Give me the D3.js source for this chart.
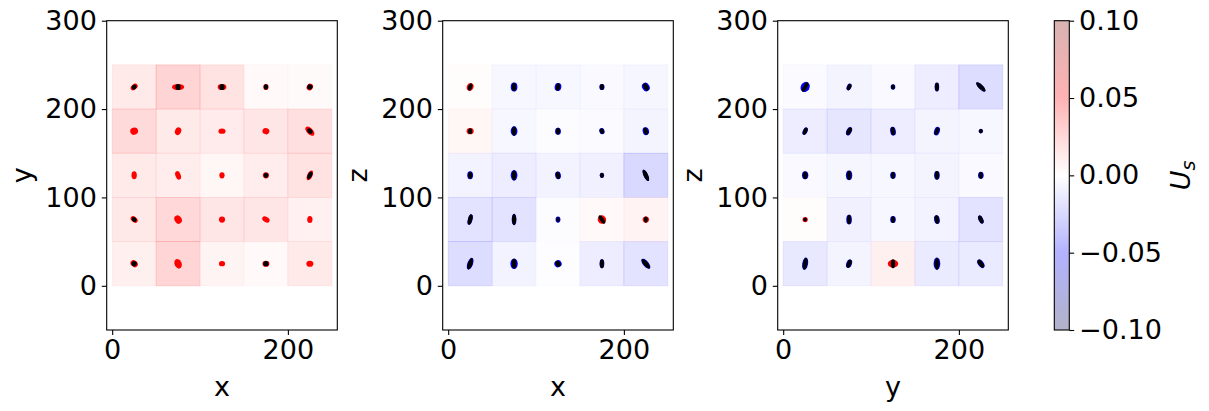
<!DOCTYPE html>
<html>
<head>
<meta charset="utf-8">
<script src="https://cdn.jsdelivr.net/npm/d3@7"></script>
<style>
  body { margin: 0; background: #fff; }
  svg text { font-family: "DejaVu Sans", sans-serif; }
</style>
</head>
<body>
<div id="container"></div>
<script>
/* DATA */
// cell centres along each axis (0-250 grid, 50 wide)
const centers = [25, 75, 125, 175, 225];
const cellSize = 50;
const panelLabels = [["x", "y"], ["x", "z"], ["y", "z"]];
const xTicks = [0, 200];
const yTicks = [0, 100, 200, 300];
const cbTicks = [-0.10, -0.05, 0, 0.05, 0.10];

// U_s per cell, rows listed top (225) to bottom (25)
const usXY = [
  [0.014, 0.028, 0.018, 0.004, 0.003],
  [0.024, 0.014, 0.013, 0.016, 0.020],
  [0.014, 0.012, 0.006, 0.012, 0.018],
  [0.015, 0.025, 0.016, 0.016, 0.009],
  [0.010, 0.027, 0.007, 0.004, 0.014]
];
const usXZ = [
  [0.002, -0.005, -0.005, -0.004, -0.006],
  [0.006, -0.005, -0.002, -0.003, -0.007],
  [-0.008, -0.012, -0.008, -0.010, -0.025],
  [-0.018, -0.018, -0.002, 0.004, 0.008],
  [-0.022, -0.008, -0.001, -0.012, -0.018]
];
const usYZ = [
  [-0.003, -0.007, -0.004, -0.012, -0.022],
  [-0.012, -0.016, -0.012, -0.007, -0.005],
  [-0.004, -0.006, -0.005, -0.007, -0.004],
  [0.002, -0.010, -0.005, -0.008, -0.018],
  [-0.015, -0.007, 0.010, -0.013, -0.013]
];

// spread of the tracked points per cell (data units):
// [semi-x, semi-y, tilt deg, black semi-x, black semi-y]
const spreadXY = [
  [[4.5,3,-40,3,2.5],[7,3.5,0,3,3.5],[5,3.5,0,3,3.5],[3,3.5,0,2.5,3],[3.5,4,30,3,3]],
  [[4.5,4,-20,0,0],[3.5,4.5,20,0,0],[4,3,0,0,0],[4,3.5,20,0,0],[6.5,3.5,45,3.5,2.5]],
  [[3,4.5,0,0,0],[3,5,-20,0,0],[3,3.5,0,0,0],[3.5,3.5,0,2.5,3],[3,6,25,2.5,4.5]],
  [[4.5,3,40,3,2.5],[4,5,-30,0,0],[3.5,3.5,0,0,0],[4.5,3,30,0,0],[3,4,0,0,0]],
  [[4.5,3.5,40,3,3],[4,5.5,-25,0,0],[3.5,3,0,0,0],[4,3.5,0,3,3],[4,3.5,0,0,0]]
];
const spreadXZ = [
  [[3.8,4.5,20,2.3,4.2],[3.8,5,0,2.3,4.8],[3.8,4.5,10,2.3,4.2],[3,3.5,0,2.3,3.3],[4.2,5,-30,2.6,4.5]],
  [[4,3.5,0,2.3,3.3],[3.8,5.5,0,2.3,5.2],[3.3,4,0,2.2,3.8],[3,3.5,-20,2.3,3.3],[3.6,4.5,-15,2.3,4.2]],
  [[3.3,4.5,0,2.3,4.2],[3.8,6,0,2.4,5.6],[3.3,4.5,-10,2.3,4.2],[2.5,3,0,2.2,3],[2.5,7,-25,2.5,7]],
  [[2.6,6,15,2.4,6],[2.7,6.5,0,2.4,6.5],[2.8,3.5,0,1.8,3],[4.7,5,-35,2.3,5.5],[3.6,3.5,0,2.1,3.5]],
  [[3.2,7,20,2.6,6.8],[4.2,6,0,2.5,5.5],[4.2,4,-30,2.7,3.6],[2.7,5,0,2.4,5],[3.2,7,-40,2.6,6.8]]
];
const spreadYZ = [
  [[5,6,30,2.3,6],[2.6,4,25,2.2,3.8],[2.6,3,0,2.2,2.8],[2.6,5,0,2.3,4.8],[2.6,7,-45,2.4,7]],
  [[2.6,4.5,25,2.3,4.3],[3,5,25,2.5,4.8],[3.2,5,-10,2.4,4.8],[3.2,5,20,2.2,4.5],[2.5,2.5,45,2.2,2.3]],
  [[3.6,4.5,0,2.6,4.3],[3.6,5.5,0,2.5,5.2],[3.2,4,0,2.2,3.8],[3.2,5,0,2.4,4.8],[3.2,4,0,2.3,3.8]],
  [[3,3,0,2.1,2.3],[3.2,5.5,0,2.3,5.3],[3.2,4,0,2.3,3.8],[3.2,5,-10,2.5,4.8],[2.6,5,-25,2.4,4.8]],
  [[3.3,7,10,2.6,6.8],[3.2,5,20,2.5,4.8],[6,4.5,0,2.5,5],[3.8,7,0,2.7,6.8],[3.2,5.5,-35,2.6,5.3]]
];

/* CONSTANTS */
const width = 1209;
const height = 411;
const fontSize = 27;
const plotTop = 20.7, plotBottom = 330;
const panelW = 230.6;
const panelLefts = [106.7, 442.7, 777.7];
const tickLen = 4.9, tickPad = 4.9;

const svg = d3.select("#container")
  .append("svg")
  .attr("width", width)
  .attr("height", height);

// seismic colormap
const color = d3.scaleLinear()
  .domain([-0.1, -0.05, 0, 0.05, 0.1])
  .range(["rgb(0,0,77)", "rgb(0,0,255)", "rgb(255,255,255)", "rgb(255,0,0)", "rgb(128,0,0)"])
  .clamp(true);

const panels = [
  { us: usXY, spread: spreadXY },
  { us: usXZ, spread: spreadXZ },
  { us: usYZ, spread: spreadYZ }
];

panels.forEach((p, i) => {
  const left = panelLefts[i];
  const xScale = d3.scaleLinear().domain([-6.25, 256.25]).range([left, left + panelW]);
  const yScale = d3.scaleLinear().domain([-50, 300]).range([plotBottom, plotTop]);
  const g = svg.append("g");

  const cells = [];
  p.us.forEach((row, r) => row.forEach((v, c) => {
    cells.push({ cx: centers[c], cy: centers[4 - r], v: v, s: p.spread[r][c] });
  }));

  // pcolormesh
  g.selectAll(".cell")
    .data(cells)
    .join("rect")
    .attr("class", "cell")
    .attr("x", d => xScale(d.cx - cellSize / 2))
    .attr("y", d => yScale(d.cy + cellSize / 2))
    .attr("width", d => xScale(d.cx + cellSize / 2) - xScale(d.cx - cellSize / 2))
    .attr("height", d => yScale(d.cy - cellSize / 2) - yScale(d.cy + cellSize / 2))
    .attr("fill", d => color(d.v))
    .attr("fill-opacity", 0.3)
    .attr("stroke", d => color(d.v))
    .attr("stroke-opacity", 0.3)
    .attr("stroke-width", 0.8);

  const kx = xScale(1) - xScale(0);
  const ky = yScale(0) - yScale(1);

  // coloured point cloud
  g.selectAll(".cloud")
    .data(cells)
    .join("ellipse")
    .attr("class", "cloud")
    .attr("transform", d => `translate(${xScale(d.cx)},${yScale(d.cy)}) rotate(${d.s[2]})`)
    .attr("rx", d => d.s[0] * kx)
    .attr("ry", d => d.s[1] * ky)
    .attr("fill", d => d.v >= 0 ? "#ff0000" : "#0000ff");

  // black points on top
  g.selectAll(".core")
    .data(cells.filter(d => d.s[3] > 0))
    .join("ellipse")
    .attr("class", "core")
    .attr("transform", d => `translate(${xScale(d.cx)},${yScale(d.cy)}) rotate(${d.s[2]})`)
    .attr("rx", d => d.s[3] * kx)
    .attr("ry", d => d.s[4] * ky)
    .attr("fill", "#000");

  // axes
  const xAxis = d3.axisBottom(xScale).tickValues(xTicks).tickSize(tickLen).tickPadding(tickPad).tickSizeOuter(0);
  const gx = g.append("g").attr("transform", `translate(0,${plotBottom})`).call(xAxis);
  const yAxis = d3.axisLeft(yScale).tickValues(yTicks).tickSize(tickLen).tickPadding(tickPad).tickSizeOuter(0);
  const gy = g.append("g").attr("transform", `translate(${left},0)`).call(yAxis);
  [gx, gy].forEach(a => {
    a.select(".domain").remove();
    a.selectAll("line").attr("stroke", "#000").attr("stroke-width", 1.1);
    a.selectAll("text").attr("font-size", fontSize).attr("fill", "#000")
      .style("font-family", "DejaVu Sans");
  });

  g.append("rect")
    .attr("x", left).attr("y", plotTop)
    .attr("width", panelW).attr("height", plotBottom - plotTop)
    .attr("fill", "none").attr("stroke", "#000").attr("stroke-width", 1.1);

  g.append("text")
    .attr("x", left + panelW / 2).attr("y", 396)
    .attr("text-anchor", "middle").attr("font-size", fontSize)
    .text(panelLabels[i][0]);
  g.append("text")
    .attr("transform", `translate(${left - 76},${(plotTop + plotBottom) / 2}) rotate(-90)`)
    .attr("text-anchor", "middle").attr("font-size", fontSize)
    .text(panelLabels[i][1]);
});

/* COLORBAR */
const cbLeft = 1054.3, cbW = 15;
const cbScale = d3.scaleLinear().domain([-0.1, 0.1]).range([plotBottom, plotTop]);
const grad = svg.append("defs").append("linearGradient")
  .attr("id", "cbgrad").attr("x1", 0).attr("y1", 1).attr("x2", 0).attr("y2", 0);
grad.selectAll("stop")
  .data(d3.range(0, 1.0001, 0.05))
  .join("stop")
  .attr("offset", d => d)
  .attr("stop-color", d => color(-0.1 + 0.2 * d));
svg.append("rect")
  .attr("x", cbLeft).attr("y", plotTop).attr("width", cbW).attr("height", plotBottom - plotTop)
  .attr("fill", "url(#cbgrad)").attr("fill-opacity", 0.3);
svg.append("rect")
  .attr("x", cbLeft).attr("y", plotTop).attr("width", cbW).attr("height", plotBottom - plotTop)
  .attr("fill", "none").attr("stroke", "#000").attr("stroke-width", 1.1);
const cbAxis = d3.axisRight(cbScale).tickValues(cbTicks).tickSize(tickLen).tickPadding(tickPad)
  .tickSizeOuter(0).tickFormat(d => d3.format(".2f")(d).replace("-", "\u2212"));
const gcb = svg.append("g").attr("transform", `translate(${cbLeft + cbW},0)`).call(cbAxis);
gcb.select(".domain").remove();
gcb.selectAll("line").attr("stroke", "#000").attr("stroke-width", 1.1);
gcb.selectAll("text").attr("font-size", fontSize).attr("fill", "#000").style("font-family", "DejaVu Sans");

const cbLabel = svg.append("text")
  .attr("transform", `translate(1190,${(plotTop + plotBottom) / 2}) rotate(-90)`)
  .attr("text-anchor", "middle").attr("font-size", fontSize);
cbLabel.append("tspan").attr("font-style", "italic").text("U");
cbLabel.append("tspan").attr("font-style", "italic").attr("font-size", fontSize * 0.7)
  .attr("dy", 5).text("s");
</script>
</body>
</html>
